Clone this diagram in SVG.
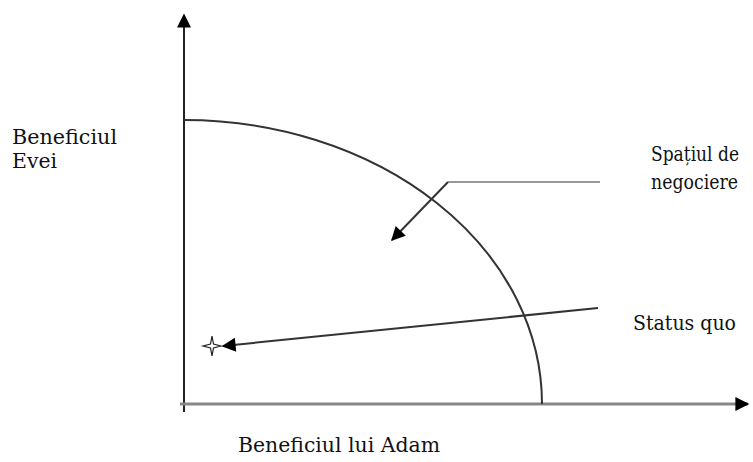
<svg xmlns="http://www.w3.org/2000/svg" width="753" height="462" viewBox="0 0 753 462">
<style>
.t{font-family:'DejaVu Serif','Liberation Serif',serif;font-size:20px;fill:#111}
.ax{stroke:#222;stroke-width:2;fill:none}
.g{stroke:#999;stroke-width:2;fill:none}
.d{stroke:#333;stroke-width:2;fill:none}
</style>
<defs>
<marker id="ah2" viewBox="0 0 10 10" refX="9" refY="5" markerWidth="16" markerHeight="14" markerUnits="userSpaceOnUse" orient="auto"><path d="M0,0L10,5L0,10z" fill="#000"/></marker>
</defs>
<g id="connectors">
<line class="ax" x1="184" y1="412" x2="184" y2="15" marker-end="url(#ah2)"/>
<line x1="180" y1="404" x2="748" y2="404" stroke="#888" stroke-width="3" marker-end="url(#ah2)"/>
<path class="d" d="M184,120 A358,284 0 0 1 542,404" stroke-width="1.5"/>
<polyline class="g" points="600,182 448,182"/>
<line class="d" x1="448" y1="182" x2="392" y2="240" marker-end="url(#ah2)"/>
<line class="d" x1="598" y1="308" x2="223" y2="346" marker-end="url(#ah2)"/>
</g>
<g id="statusquo-point">
<path d="M212,336 L213.5,344 L221,346 L213.5,348 L212,356 L210.5,348 L203,346 L210.5,344 Z" fill="#fff" stroke="#222" stroke-width="1.2"/>
</g>
<g class="t">
<g id="label-y"><text x="12" y="144" textLength="105" lengthAdjust="spacingAndGlyphs">Beneficiul</text><text x="12" y="168" textLength="45" lengthAdjust="spacingAndGlyphs">Evei</text></g>
<g id="label-space"><text x="651" y="161" textLength="88" lengthAdjust="spacingAndGlyphs">Spațiul de</text><text x="651" y="189" textLength="87" lengthAdjust="spacingAndGlyphs">negociere</text></g>
<g id="label-sq"><text x="633" y="330" textLength="103" lengthAdjust="spacingAndGlyphs">Status quo</text></g>
<g id="label-x"><text x="238" y="452" textLength="202" lengthAdjust="spacingAndGlyphs">Beneficiul lui Adam</text></g>
</g>
</svg>
